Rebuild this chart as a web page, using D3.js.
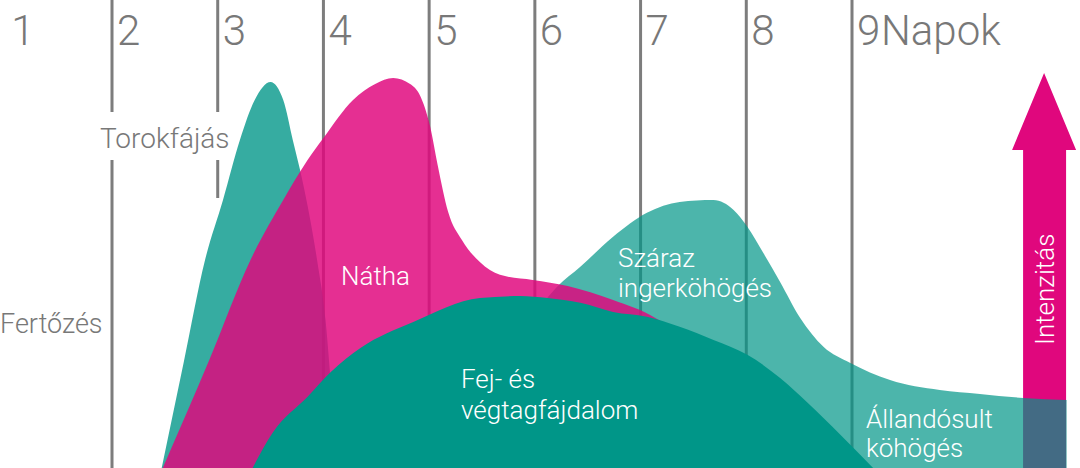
<!DOCTYPE html>
<html>
<head>
<meta charset="utf-8">
<script src="https://cdn.jsdelivr.net/npm/d3@7"></script>
<style>
  html, body { margin: 0; padding: 0; background: #fff; }
  svg { display: block; font-family: Roboto, "Open Sans", sans-serif; }
</style>
</head>
<body>
<svg id="chart" width="1080" height="468"></svg>
<script>
// ---- data (x in days, y in relative intensity 0-100) ----
const dayTicks = [1, 2, 3, 4, 5, 6, 7, 8, 9];
const dayTickLabels = ["1", "2", "3", "4", "5", "6", "7", "8", "9"];
const axisTitle = "Napok";
const intensityTitle = "Intenzitás";

const torokDays   = [2.47, 2.68, 2.88, 3.05, 3.21, 3.35, 3.50, 3.62, 3.71, 3.80, 3.94, 4.02, 4.06, 4.10, 4.12];
const torokValues = [0, 26.6, 52, 67, 82, 92, 96.5, 92, 82, 72, 52, 37, 24.5, 9.5, 0];

const nathaDays   = [2.48, 2.92, 3.31, 3.62, 3.85, 4.00, 4.28, 4.49, 4.66, 4.82, 4.91, 5.01, 5.08, 5.18, 5.31, 5.48, 5.67, 5.98, 6.31, 6.74, 7.14, 7.47, 7.75, 7.94];
const nathaValues = [0, 27, 52, 67, 77, 82.5, 92, 96, 97.5, 96, 93.3, 85.3, 75.8, 64, 57, 51.5, 48.3, 47, 45.5, 42, 37.5, 30.8, 17, 0];

const szarazDays   = [5.86, 6.10, 6.21, 6.43, 6.74, 7.06, 7.37, 7.69, 7.88, 8.01, 8.16, 8.32, 8.51, 8.73, 8.98, 9.36, 9.83, 10.21, 10.62, 11.03];
const szarazValues = [34.5, 42, 45.3, 50.3, 57.8, 63.8, 66.5, 67, 64.5, 60.3, 53.8, 46.5, 37.5, 30.3, 26.3, 22, 19.5, 18.5, 17.5, 17];

const fejDays   = [3.33, 3.52, 3.85, 4.07, 4.35, 4.85, 5.48, 5.86, 6.12, 6.43, 6.74, 7.06, 7.37, 7.69, 8.01, 8.32, 8.58, 8.89, 9.20];
const fejValues = [0, 8.8, 17.8, 24, 30, 36.5, 42.5, 43, 42.5, 41.3, 39, 37.8, 35.3, 32, 28.3, 22.5, 16.3, 8.3, 0];

// ---- layout ----
const W = 1080, H = 468;
const svg = d3.select("#chart");
const x = d3.scaleLinear().domain([2, 9]).range([112, 852]);
const y = d3.scaleLinear().domain([0, 100]).range([H, 68]);

const TEAL = "#009688", PINK = "#e0077d", GRAY = "#7d7d7d", LABEL = "#787878";

const zip = (a, b) => a.map((d, i) => [d, b[i]]);
const area = d3.area().x(d => x(d[0])).y0(y(0)).y1(d => y(d[1])).curve(d3.curveMonotoneX);

// day grid lines
const lineEnds = { 3: y(67.5) };
svg.append("g").selectAll("line").data(dayTicks.filter(d => d >= 2)).join("line")
  .attr("x1", d => x(d)).attr("x2", d => x(d))
  .attr("y1", 0).attr("y2", d => lineEnds[d] !== undefined ? lineEnds[d] : H)
  .attr("stroke", GRAY).attr("stroke-width", 3);

// day labels
svg.append("g").selectAll("text").data(dayTicks).join("text")
  .attr("x", d => x(d) + 5).attr("y", 45)
  .attr("font-size", 42).attr("font-weight", 300).attr("fill", LABEL)
  .text((d, i) => dayTickLabels[i]);
svg.append("text").attr("x", x(9) + 29).attr("y", 45)
  .attr("font-size", 42).attr("font-weight", 300).attr("fill", LABEL).text(axisTitle);

// intensity arrow
const ax = x(10.817);
svg.append("path")
  .attr("d", `M${ax},73 L${ax + 32},150 L${ax + 22},150 L${ax + 22},${H} L${ax - 21},${H} L${ax - 21},150 L${ax - 32},150 Z`)
  .attr("fill", PINK);
svg.append("text")
  .attr("transform", `translate(${ax + 10},345) rotate(-90)`)
  .attr("font-size", 26).attr("font-weight", 300).attr("fill", "#fff").text(intensityTitle);

// areas
svg.append("path").datum(zip(torokDays, torokValues)).attr("d", area).attr("fill", TEAL).attr("fill-opacity", 0.79);
svg.append("path").datum(zip(szarazDays, szarazValues)).attr("d", area).attr("fill", TEAL).attr("fill-opacity", 0.7);
svg.append("path").datum(zip(nathaDays, nathaValues)).attr("d", area).attr("fill", PINK).attr("fill-opacity", 0.84);
svg.append("path").datum(zip(fejDays, fejValues)).attr("d", area).attr("fill", TEAL);

// labels
svg.append("rect").attr("x", 96).attr("y", 112).attr("width", 136).attr("height", 48).attr("fill", "#fff");
const gray = [["Torokfájás", 100, 148], ["Fertőzés", 0, 333]];
svg.append("g").selectAll("text").data(gray).join("text")
  .attr("x", d => d[1]).attr("y", d => d[2])
  .attr("font-size", d => d[0] === "Torokfájás" ? 28 : 27).attr("font-weight", 300).attr("fill", LABEL).text(d => d[0]);

const white = [["Nátha", 341, 285], ["Száraz", 618, 267], ["ingerköhögés", 618, 297],
               ["Fej- és", 461, 388], ["végtagfájdalom", 461, 419],
               ["Állandósult", 866, 428], ["köhögés", 866, 457]];
svg.append("g").selectAll("text").data(white).join("text")
  .attr("x", d => d[1]).attr("y", d => d[2])
  .attr("font-size", 26).attr("font-weight", 300).attr("fill", "#fff").text(d => d[0]);
</script>
</body>
</html>
